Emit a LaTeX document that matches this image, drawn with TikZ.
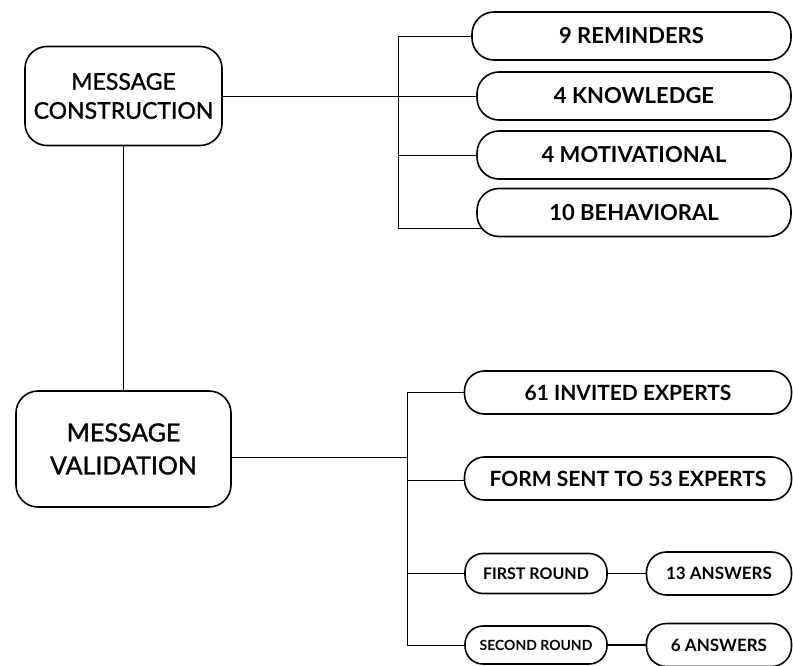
\documentclass[tikz,border=0pt]{standalone}
\usepackage{fontspec}
\setmainfont{Lato}
\newfontfamily\medfont[FakeBold=1.2]{Lato}
\usetikzlibrary{backgrounds}

\begin{document}
\begin{tikzpicture}[line width=1.6pt,
  mainbox/.style={draw, rounded corners=22pt, fill=white, align=center, inner sep=0pt},
  leafbox/.style={draw, rounded corners=22pt, fill=white, inner sep=0pt, minimum height=48pt, font=\bfseries\fontsize{22}{26}\selectfont},
  expbox/.style={draw, rounded corners=20pt, fill=white, inner sep=0pt, minimum width=327pt, minimum height=43pt, font=\bfseries\fontsize{21}{25}\selectfont},
  roundbox/.style={draw, rounded corners=18pt, fill=white, inner sep=0pt, minimum width=142pt, minimum height=40pt},
  ansbox/.style={draw, rounded corners=20pt, fill=white, inner sep=0pt, minimum width=145pt, minimum height=43pt, font=\bfseries\fontsize{17}{20}\selectfont}]
  \useasboundingbox (0pt,0pt) rectangle (793pt,-666pt);
  % main steps
  \draw (123.5pt, -96pt)node[mainbox, minimum width=197pt, minimum height=99pt, font=\medfont\fontsize{23}{29}\selectfont](con){MESSAGE\\CONSTRUCTION};
  \draw (123.5pt, -449pt)node[mainbox, minimum width=215pt, minimum height=116pt, font=\medfont\fontsize{25}{33}\selectfont](val){MESSAGE\\VALIDATION};
  % message types
  \draw (631.5pt, -36pt)node[leafbox, minimum width=319pt](r1){9 REMINDERS};
  \draw (634pt, -96pt)node[leafbox, minimum width=314pt](r2){4 KNOWLEDGE};
  \draw (634pt, -155pt)node[leafbox, minimum width=314pt](r3){4 MOTIVATIONAL};
  \draw (634pt, -212.5pt)node[leafbox, minimum width=314pt](r4){10 BEHAVIORAL};
  % validation steps
  \draw (628pt, -392.5pt)node[expbox](s1){61 INVITED EXPERTS};
  \draw (628pt, -478.5pt)node[expbox](s2){FORM SENT TO 53 EXPERTS};
  \draw (536pt, -573.5pt)node[roundbox, font=\bfseries\fontsize{16}{19}\selectfont](s3){FIRST ROUND};
  \draw (719pt, -573.5pt)node[ansbox](s4){13 ANSWERS};
  \draw (536pt, -645pt)node[roundbox, minimum height=38pt, font=\bfseries\fontsize{14}{17}\selectfont](s5){SECOND ROUND};
  \draw (719pt, -645pt)node[ansbox](s6){6 ANSWERS};
  \coordinate (tb) at (398pt, -36pt);
  \coordinate (bb) at (398pt, -228pt);
  \coordinate (lb) at (407pt, -392.5pt);
  \coordinate (lbb) at (407pt, -645pt);
  \begin{scope}[on background layer]
    \draw (con.south) -- (val.north);
    \draw (con.east) -- (con.east -| r2.west);
    \draw (r1.west) -- (tb) -- (bb) -- ([xshift=14pt]bb -| r4.west);
    \draw (r3.west -| tb) -- (r3.west);
    \draw ([yshift=-8pt]val.east) -- ([yshift=-8pt]val.east -| lb);
    \draw (s1.west) -- (lb) -- (lbb) -- (s5.west);
    \draw ([yshift=-1.5pt]s2.west -| lb) -- ([yshift=-1.5pt]s2.west);
    \draw (s3.west -| lb) -- (s3.west);
  \end{scope}
  \draw (s3) -- (s4);
  \draw (s5) -- (s6);
\end{tikzpicture}
\end{document}
